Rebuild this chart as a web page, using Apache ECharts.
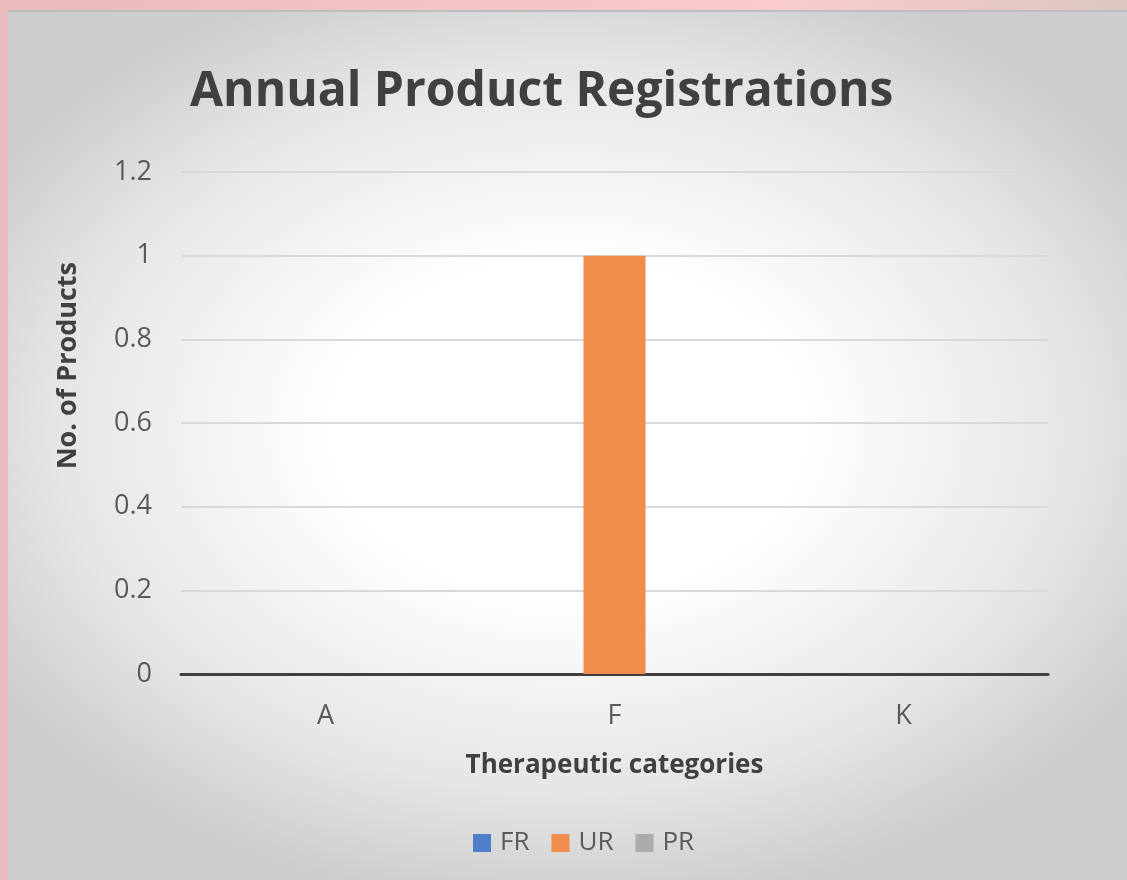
<!DOCTYPE html>
<html><head><meta charset="utf-8">
<script src="https://cdn.jsdelivr.net/npm/echarts@6/dist/echarts.min.js"></script>
<style>
html,body{margin:0;padding:0;width:1127px;height:880px;overflow:hidden;background:linear-gradient(90deg,#e9bcbc,#f8cccc 70%,#dcc6c0);}
#bg{position:absolute;left:8px;top:10px;width:1119px;height:870px;border-top:2px solid #bdbdbd;box-sizing:border-box;
background:radial-gradient(ellipse 60% 55% at 50% 48%,#ffffff 35%,#e6e6e6 75%,#cdcdcd 100%);}
#c{position:absolute;left:0;top:0;width:1127px;height:880px;}
</style></head>
<body><div id="bg"></div><div id="c"></div>
<script>
const categories = ['A','F','K'];
const seriesNames = ['FR','UR','PR'];
const frValues = [0,0,0];
const urValues = [0,1,0];
const prValues = [0,0,0];
const colors = ['#4F7FC9','#EE8D4C','#ABABAB'];
const font = '"Open Sans", sans-serif';
const chart = echarts.init(document.getElementById('c'));
chart.setOption({
  backgroundColor:'transparent',
  animation:false,
  textStyle:{fontFamily:font},
  title:{text:'Annual Product Registrations',left:185,top:63,textStyle:{fontFamily:font,fontSize:48,fontWeight:'bold',color:'#404040'}},
  legend:{data:seriesNames,bottom:19,left:468,icon:'rect',itemWidth:18,itemHeight:18,itemGap:22,
    textStyle:{fontFamily:font,fontSize:26,color:'#595959',padding:[0,0,0,4]}},
  grid:{left:181,right:79,top:172,bottom:206,containLabel:false},
  graphic:[{type:'text',left:55,top:262,rotation:Math.PI/2,
    style:{text:'No. of Products',fontFamily:font,fontSize:27,fontWeight:'bold',fill:'#404040'}}],
  xAxis:{type:'category',data:categories,
    axisLine:{lineStyle:{color:'#404040',width:3}},axisTick:{show:false},
    axisLabel:{fontSize:27,color:'#595959',margin:29},
    name:'Therapeutic categories',nameLocation:'middle',nameGap:79,
    nameTextStyle:{fontSize:26,fontWeight:'bold',color:'#404040'}},
  yAxis:{type:'value',min:0,max:1.2,interval:0.2,
    axisLine:{show:false},axisTick:{show:false},
    axisLabel:{fontSize:27,color:'#595959',margin:29,formatter:v=>String(Math.round(v*10)/10)},
    splitLine:{lineStyle:{color:'#d9d9d9',width:2}}},
  series:[
    {name:'FR',type:'bar',data:frValues,barWidth:62,barGap:'0%',itemStyle:{color:colors[0]}},
    {name:'UR',type:'bar',data:urValues,barWidth:62,barGap:'0%',itemStyle:{color:colors[1]}},
    {name:'PR',type:'bar',data:prValues,barWidth:62,barGap:'0%',itemStyle:{color:colors[2]}}
  ]
});
</script></body></html>
